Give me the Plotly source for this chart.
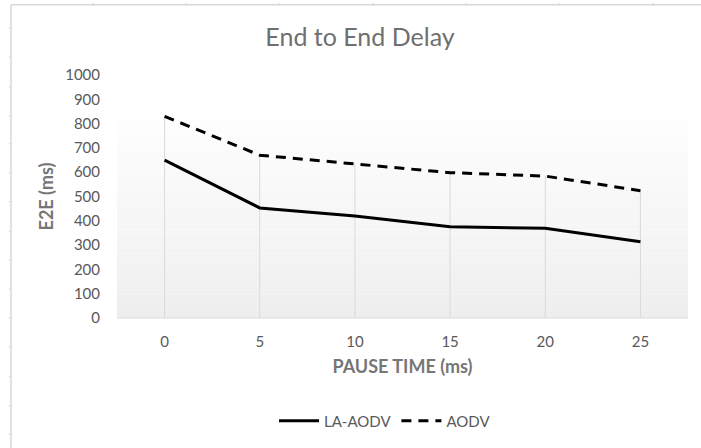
import plotly.graph_objects as go

# Pause time (ms) and end-to-end delay (ms) for each protocol
pause_time = [0, 5, 10, 15, 20, 25]
la_aodv = [650, 453, 420, 376, 369, 314]
aodv = [830, 670, 634, 598, 584, 524]
y_ticks = [0, 100, 200, 300, 400, 500, 600, 700, 800, 900, 1000]

W, H = 701, 448
L, R, T, B = 117, 13, 75, 129
PW, PH = W - L - R, H - T - B

FONT = "Lato"
GREY = "#595959"
TITLE_GREY = "#767676"


def px_x(px):
    return (px - L) / PW


def px_y(py):
    return (H - B - py) / PH


fig = go.Figure()

# drop lines from the axis up to the higher of the two series
drop_x, drop_y = [], []
for x, a, b in zip(pause_time, la_aodv, aodv):
    drop_x += [x, x, None]
    drop_y += [0, max(a, b), None]
fig.add_trace(go.Scatter(x=drop_x, y=drop_y, mode="lines",
                         line=dict(color="#d9d9d9", width=1),
                         hoverinfo="skip", showlegend=False))

fig.add_trace(go.Scatter(x=pause_time, y=la_aodv, mode="lines", name="LA-AODV",
                         line=dict(color="black", width=3)))
fig.add_trace(go.Scatter(x=pause_time, y=aodv, mode="lines", name="AODV",
                         line=dict(color="black", width=3, dash="10px,7px")))

shapes = []
# vertical gradient fill behind the series
n = 50
top_frac = px_y(117)
c0, c1 = (0xee, 0xee, 0xee), (0xfe, 0xfe, 0xfe)
for i in range(n):
    t = i / (n - 1)
    col = tuple(int(round(c0[k] + (c1[k] - c0[k]) * t)) for k in range(3))
    shapes.append(dict(type="rect", xref="paper", yref="paper",
                       x0=0, x1=1, y0=top_frac * i / n, y1=top_frac * (i + 1) / n,
                       fillcolor="rgb(%d,%d,%d)" % col, line=dict(width=0),
                       layer="below"))

# category axis baseline
shapes.append(dict(type="line", xref="paper", yref="paper", x0=0, x1=1, y0=0, y1=0,
                   line=dict(color="#d9d9d9", width=1.2), layer="below"))

# chart area border
shapes.append(dict(type="line", xref="paper", yref="paper",
                   x0=px_x(11), x1=px_x(11), y0=px_y(H + 2), y1=px_y(4.5),
                   line=dict(color="#d9d9d9", width=1.5)))
shapes.append(dict(type="line", xref="paper", yref="paper",
                   x0=px_x(11), x1=px_x(W + 2), y0=px_y(4.5), y1=px_y(4.5),
                   line=dict(color="#d9d9d9", width=1.5)))

# sheet gridline stubs outside the chart border
for gx in [93, 186, 279, 373, 466, 559, 653]:
    shapes.append(dict(type="line", xref="paper", yref="paper",
                       x0=px_x(gx), x1=px_x(gx), y0=px_y(2.5), y1=px_y(4),
                       line=dict(color="#d0d0d0", width=1)))
for gy in [28, 57, 87, 116, 144, 173, 202, 232, 261, 290, 319, 348, 378, 407, 436]:
    shapes.append(dict(type="line", xref="paper", yref="paper",
                       x0=px_x(9), x1=px_x(10.5), y0=px_y(gy), y1=px_y(gy),
                       line=dict(color="#d0d0d0", width=1)))

fig.update_layout(
    width=W, height=H,
    margin=dict(l=L, r=R, t=T, b=B, pad=0),
    paper_bgcolor="white", plot_bgcolor="rgba(0,0,0,0)",
    shapes=shapes,
    title=dict(text="End to End Delay", xref="container", x=360 / W, xanchor="center",
               yref="container", y=1 - 37 / H, yanchor="middle",
               font=dict(family=FONT, size=25, color="#6f6f6f")),
    xaxis=dict(range=[-2.5, 27.5], tickvals=pause_time, ticktext=[str(v) for v in pause_time],
               showgrid=False, zeroline=False, showline=False,
               ticks="outside", ticklen=10, tickcolor="rgba(0,0,0,0)",
               tickfont=dict(family=FONT, size=15, color=GREY),
               title=dict(text="<b>PAUSE TIME (ms)</b>", standoff=11,
                          font=dict(family=FONT, size=18, color=TITLE_GREY))),
    yaxis=dict(range=[0, 1000], tickvals=y_ticks, showgrid=False, zeroline=False,
               showline=False, ticks="outside", ticklen=13, tickcolor="rgba(0,0,0,0)",
               tickfont=dict(family=FONT, size=15, color=GREY),
               title=dict(text="<b>E2E (ms)</b>", standoff=6,
                          font=dict(family=FONT, size=18, color=TITLE_GREY))),
    legend=dict(orientation="h", x=px_x(385), xanchor="center", y=px_y(421),
                yanchor="middle", font=dict(family=FONT, size=15, color=GREY),
                itemwidth=40, tracegroupgap=0, bgcolor="rgba(0,0,0,0)"),
    showlegend=True,
)

fig.write_html("out.html")
